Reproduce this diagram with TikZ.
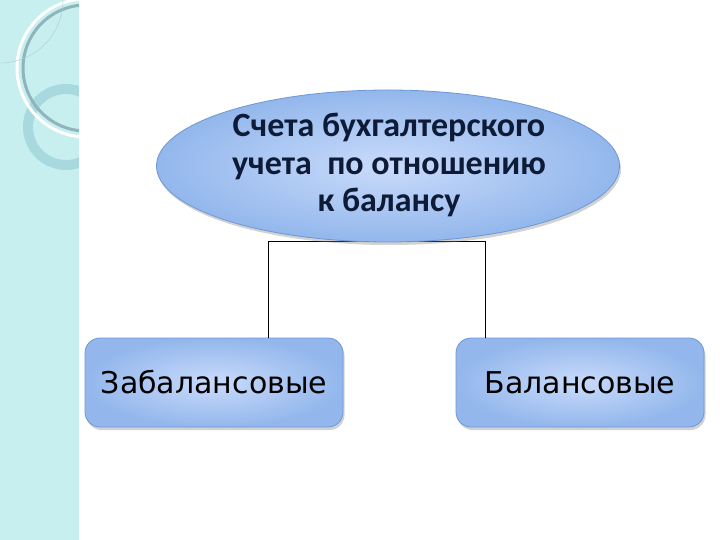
\documentclass[tikz,border=0pt]{standalone}
\usepackage{fontspec}
\setmainfont{DejaVu Sans}
\newfontfamily\titlefont{Carlito}
\usetikzlibrary{shapes.geometric,shadows}
\definecolor{stripe}{HTML}{C8EFEF}
\definecolor{ringgray}{HTML}{8FB4BC}
\definecolor{ringlight}{HTML}{A8D9DF}
\definecolor{bluein}{HTML}{C9DBFB}
\definecolor{blueout}{HTML}{93B7EC}
\definecolor{blueedge}{HTML}{6C98D6}
\definecolor{navy}{HTML}{0E1B36}
\tikzset{
  bluebox/.style={draw=blueedge, line width=0.8pt, shading=radial, inner color=bluein, outer color=blueout,
    drop shadow={shadow xshift=1.5pt, shadow yshift=-3pt, opacity=0.35}},
  conn/.style={draw=black, line width=0.6pt}
}
\begin{document}
\begin{tikzpicture}[x=1pt,y=-1pt]
\useasboundingbox (0,0) rectangle (720,540);
\fill[white] (0,0) rectangle (720,540);
% left stripe
\fill[stripe] (0,0) rectangle (79,540);
\begin{scope}
\clip (0,0) rectangle (79,540);
\draw[ringlight, line width=10pt] (66,127) circle (38);
\draw[white, line width=3pt] (86,68) circle (69);
\draw[ringgray, line width=3pt] (86,68) circle (63);
\draw[ringgray!70, line width=0.4pt] (0,0) circle (63);
\end{scope}
% connectors
\coordinate (jl) at (268,241);
\coordinate (jr) at (485,241);
\node[bluebox, rounded corners=15pt, minimum width=258pt, minimum height=89pt, inner sep=0pt,
  font=\fontsize{30}{34}\selectfont] (lbox) at (214,382.5) {Забалансовые};
\node[bluebox, rounded corners=15pt, minimum width=248pt, minimum height=89pt, inner sep=0pt,
  font=\fontsize{30}{34}\selectfont] (rbox) at (580,382.5) {Балансовые};
\draw[conn] (jl |- lbox.north) -- (jl) -- (jr) -- (jr |- rbox.north);
% ellipse
\node[bluebox, ellipse, minimum width=463pt, minimum height=152pt, inner sep=0pt] (ell) at (388,166) {};
\node[text=navy, align=center, font=\titlefont\bfseries\fontsize{34}{37.5}\selectfont] (title) at (389,165)
  {Счета бухгалтерского\\учета\ \ по отношению\\к балансу};
\end{tikzpicture}
\end{document}
